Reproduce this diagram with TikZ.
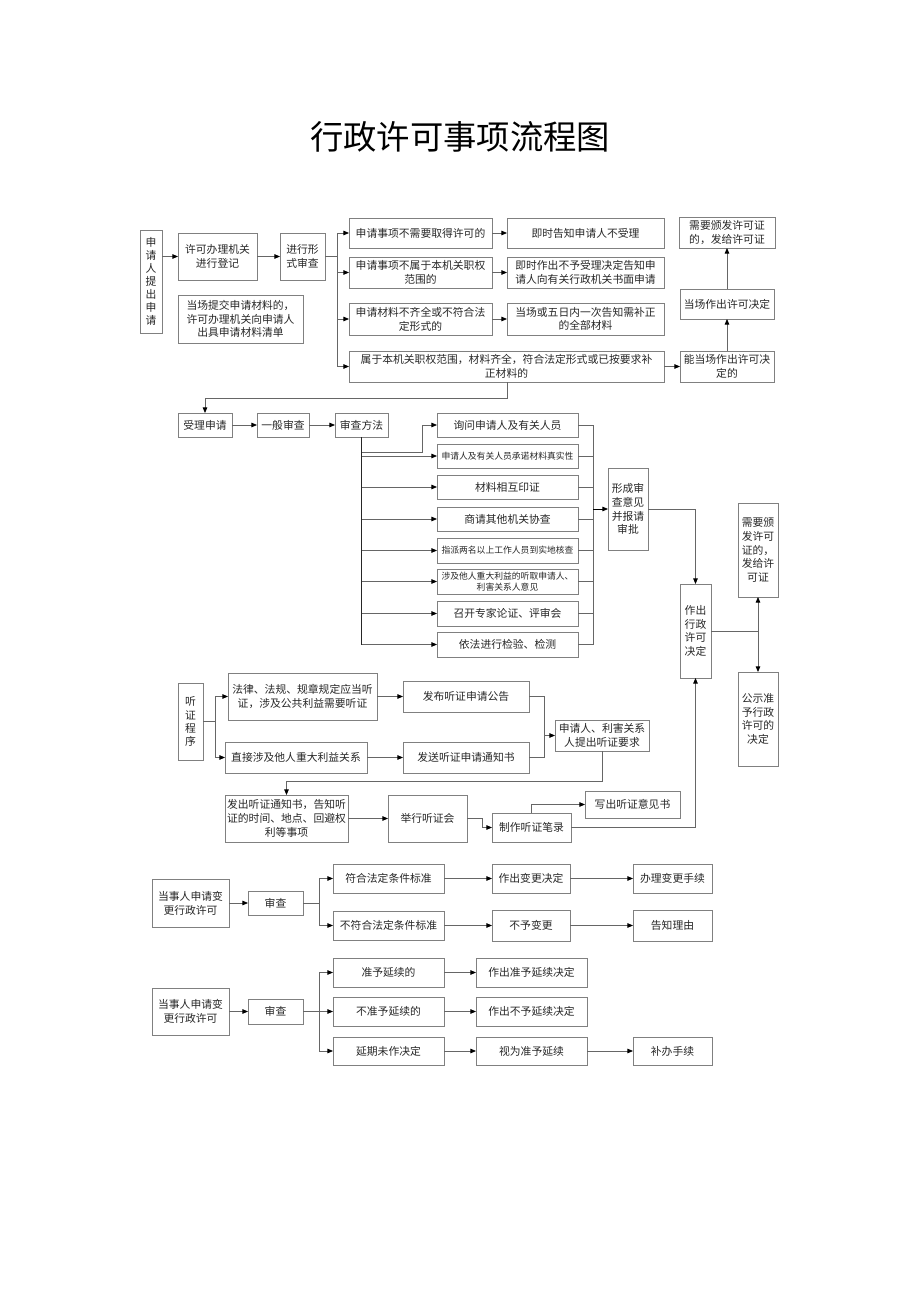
\documentclass[tikz,border=0pt]{standalone}
\usepackage{fontspec}
\setmainfont{Noto Sans CJK SC}
\usetikzlibrary{arrows.meta,calc}
\tikzset{
 bx/.style={draw=black!50, line width=0.6pt, inner sep=1pt, outer sep=0pt, align=center,
   font=\fontsize{8.1}{10.3}\selectfont, text=black!85},
 sm/.style={font=\fontsize{6.6}{8.6}\selectfont},
 vt/.style={font=\fontsize{8.1}{9.8}\selectfont},
 ln/.style={draw=black!60, line width=0.6pt},
 arr/.style={ln, -{Triangle[length=4.2pt,width=3.4pt,color=black]}},
}
\newcommand{\bxn}[7][]{\node[bx,#1,minimum width={(#5-#3)*0.75pt},minimum height={(#6-#4)*0.75pt}] (#2) at ({(#3+#5)/2},{(#4+#6)/2}) {#7};}
\begin{document}
\begin{tikzpicture}[x=0.75pt,y=-0.75pt]
\useasboundingbox (0,0) rectangle (920,1302);
\node[text=black] (title) at (460,137) {\fontsize{25}{30}\selectfont 行政许可事项流程图};
% ---------- row 1
\bxn[vt]{app}{140}{230}{162}{333}{申\\请\\人\\提\\出\\申\\请}
\bxn{reg}{178}{233}{257}{280}{许可办理机关\\进行登记}
\bxn{form}{280}{233}{325}{280}{进行形\\式审查}
\bxn{note}{178}{295}{303}{343}{当场提交申请材料的，\\许可办理机关向申请人\\出具申请材料清单}
\bxn{a1}{349}{218}{492}{248}{申请事项不需要取得许可的}
\bxn{a2}{349}{257}{492}{288}{申请事项不属于本机关职权\\范围的}
\bxn{a3}{349}{303}{492}{335}{申请材料不齐全或不符合法\\定形式的}
\bxn{a4}{349}{351}{664}{382}{属于本机关职权范围，材料齐全，符合法定形式或已按要求补\\正材料的}
\bxn{r1}{507}{218}{664}{248}{即时告知申请人不受理}
\bxn{r2}{507}{257}{664}{288}{即时作出不予受理决定告知申\\请人向有关行政机关书面申请}
\bxn{r3}{507}{303}{664}{335}{当场或五日内一次告知需补正\\的全部材料}
\bxn{c1}{679}{217}{775}{248}{需要颁发许可证\\的，发给许可证}
\bxn{c2}{680}{289}{774}{319}{当场作出许可决定}
\bxn{c3}{680}{351}{774}{382}{能当场作出许可决\\定的}
\draw[arr] (app.east |- reg.west) -- (reg.west);
\draw[arr] (reg.east) -- (form.west);
\coordinate (b1) at ($(form.east)+(12,0)$);
\draw[ln] (form.east) -- (b1);
\draw[arr] (b1) |- (a1.west);
\draw[arr] (b1) |- (a2.west);
\draw[arr] (b1) |- (a3.west);
\draw[arr] (b1) |- (a4.west);
\draw[arr] (a1.east) -- (r1.west);
\draw[arr] (a2.east) -- (r2.west);
\draw[arr] (a3.east) -- (r3.west);
\draw[arr] (a4.east) -- (c3.west);
\draw[arr] (c3.north) -- (c2.south);
\draw[arr] (c2.north) -- (c1.south);
% ---------- row 2
\bxn{acc}{178}{413}{232}{437}{受理申请}
\bxn{gen}{257}{413}{309}{437}{一般审查}
\bxn{meth}{335}{413}{388}{437}{审查方法}
\bxn{m1}{437}{413}{578}{437}{询问申请人及有关人员}
\bxn[sm]{m2}{437}{444}{578}{468}{申请人及有关人员承诺材料真实性}
\bxn{m3}{437}{475}{578}{499}{材料相互印证}
\bxn{m4}{437}{507}{578}{531}{商请其他机关协查}
\bxn[sm]{m5}{437}{538}{578}{563}{指派两名以上工作人员到实地核查}
\bxn[sm]{m6}{437}{569}{578}{594}{涉及他人重大利益的听取申请人、\\利害关系人意见}
\bxn{m7}{437}{601}{578}{626}{召开专家论证、评审会}
\bxn{m8}{437}{632}{578}{657}{依法进行检验、检测}
\bxn{op}{608}{468}{648}{550}{形成审\\查意见\\并报请\\审批}
\bxn{dec}{680}{584}{711}{678}{作出\\行政\\许可\\决定}
\bxn{lic}{738}{503}{778}{597}{需要颁\\发许可\\证的，\\发给许\\可证}
\bxn{pub}{738}{672}{778}{766}{公示准\\予行政\\许可的\\决定}
\coordinate (d1) at (a4.south -| r1.west);
\draw[arr] (d1) -- ++(0,16) -| (acc.north);
\draw[arr] (acc.east) -- (gen.west);
\draw[arr] (gen.east) -- (meth.west);
\draw[ln,draw=black!85] (meth.south) -- (meth.south |- m8.west);
\coordinate (k1) at (422,452);
\draw[arr] (meth.south |- k1) -- (k1) |- (m1.west);
\foreach \i in {2,...,8} {\draw[arr] (meth.south |- m\i.west) -- (m\i.west);}
\coordinate (rb) at (593,425);
\foreach \i in {1,...,8} {\draw[ln] (m\i.east) -- (rb |- m\i.east);}
\draw[ln] (rb |- m1.east) -- (rb |- m8.east);
\draw[arr,draw=black] (rb |- op.west) -- (op.west);
\draw[arr] (op.east) -| (dec.north);
\draw[ln] (dec.east) -- (dec.east -| lic.south);
\draw[arr] (dec.east -| lic.south) -- (lic.south);
\draw[arr] (dec.east -| pub.north) -- (pub.north);
% ---------- hearing
\bxn[vt]{hp}{178}{683}{203}{760}{听\\证\\程\\序}
\bxn{h1}{228}{673}{377}{720}{法律、法规、规章规定应当听\\证，涉及公共利益需要听证}
\bxn{h2}{225}{742}{367}{773}{直接涉及他人重大利益关系}
\bxn{p1}{403}{681}{529}{712}{发布听证申请公告}
\bxn{p2}{403}{742}{529}{773}{发送听证申请通知书}
\bxn{req}{555}{720}{649}{751}{申请人、利害关系\\人提出听证要求}
\bxn{n1}{225}{795}{348}{842}{发出听证通知书，告知听\\证的时间、地点、回避权\\利等事项}
\bxn{hold}{388}{795}{467}{842}{举行听证会}
\bxn{rec}{492}{813}{571}{842}{制作听证笔录}
\bxn{wr}{585}{791}{680}{818}{写出听证意见书}
\coordinate (hb) at (215,721);
\draw[ln] (hp.east) -- (hp.east -| hb);
\draw[arr] (hp.east -| hb) |- (h1.west);
\draw[arr] (hp.east -| hb) |- (h2.west);
\draw[arr] (h1.east) -- (p1.west);
\draw[arr] (h2.east) -- (p2.west);
\coordinate (pb) at (544,700);
\draw[ln] (p1.east) -- (pb |- p1.east) -- (pb |- p2.east) -- (p2.east);
\draw[arr] (pb |- req.west) -- (req.west);
\draw[arr] (req.south) -- ++(0,30) -| (n1.north);
\draw[arr] (n1.east) -- (hold.west);
\coordinate (hb2) at (482,820);
\draw[arr] (hold.east) -- (hold.east -| hb2) |- (rec.west);
\draw[arr] (rec.north) |- (wr.west);
\draw[arr] (rec.east) -| (dec.south);
% ---------- change
\bxn{ch1}{152}{879}{229}{927}{当事人申请变\\更行政许可}
\bxn{sc1}{248}{891}{303}{915}{审查}
\bxn{ok1}{333}{864}{444}{893}{符合法定条件标准}
\bxn{no1}{333}{911}{444}{940}{不符合法定条件标准}
\bxn{cd1}{492}{864}{570}{893}{作出变更决定}
\bxn{nc1}{492}{910}{570}{941}{不予变更}
\bxn{bl1}{633}{864}{712}{893}{办理变更手续}
\bxn{gz}{633}{910}{712}{941}{告知理由}
\coordinate (cb) at (319,900);
\draw[arr] (ch1.east) -- (sc1.west);
\draw[ln] (sc1.east) -- (sc1.east -| cb);
\draw[arr] (sc1.east -| cb) |- (ok1.west);
\draw[arr] (sc1.east -| cb) |- (no1.west);
\draw[arr] (ok1.east) -- (cd1.west);
\draw[arr] (cd1.east) -- (bl1.west);
\draw[arr] (no1.east) -- (nc1.west);
\draw[arr] (nc1.east) -- (gz.west);
% ---------- renewal
\bxn{ch2}{152}{988}{229}{1035}{当事人申请变\\更行政许可}
\bxn{sc2}{248}{999}{303}{1024}{审查}
\bxn{y1}{333}{958}{444}{987}{准予延续的}
\bxn{y2}{333}{997}{444}{1026}{不准予延续的}
\bxn{y3}{333}{1037}{444}{1065}{延期未作决定}
\bxn{z1}{476}{958}{587}{987}{作出准予延续决定}
\bxn{z2}{476}{997}{587}{1026}{作出不予延续决定}
\bxn{z3}{476}{1037}{587}{1065}{视为准予延续}
\bxn{bb}{633}{1037}{712}{1065}{补办手续}
\draw[arr] (ch2.east) -- (sc2.west);
\draw[ln] (sc2.east) -- (sc2.east -| cb);
\draw[arr] (sc2.east -| cb) |- (y1.west);
\draw[arr] (sc2.east -| cb) -- (y2.west);
\draw[arr] (sc2.east -| cb) |- (y3.west);
\draw[arr] (y1.east) -- (z1.west);
\draw[arr] (y2.east) -- (z2.west);
\draw[arr] (y3.east) -- (z3.west);
\draw[arr] (z3.east) -- (bb.west);
\end{tikzpicture}
\end{document}
